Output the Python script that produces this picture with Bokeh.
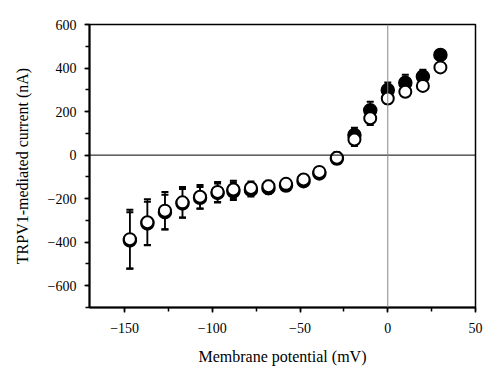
from bokeh.plotting import figure
from bokeh.models import ColumnDataSource, Whisker, TeeHead, Span, SingleIntervalTicker, Range1d
from bokeh.embed import file_html
from bokeh.resources import INLINE

voltage = [-147, -137, -127, -117, -107, -97, -88, -78, -68, -58, -48, -39, -29, -19, -10, 0, 10, 20, 30]
open_current = [-386, -308, -255, -217, -191, -169, -158, -151, -143, -132, -112, -77, -12, 72, 169, 260, 291, 318, 403]
open_err = [135, 105, 85, 70, 54, 46, 40, 30, 25, 22, 20, 20, 25, 30, 31, 23, 19, 20, 15]
filled_current = [-392, -314, -262, -222, -196, -174, -166, -160, -152, -140, -120, -84, -16, 92, 206, 299, 332, 361, 460]
filled_err = [130, 100, 80, 66, 50, 44, 40, 30, 25, 22, 20, 20, 25, 34, 39, 35, 37, 31, 22]

x_ticks = [-150, -100, -50, 0, 50]
y_ticks = [-600, -400, -200, 0, 200, 400, 600]

FONT = "Liberation Serif"

p = figure(width=492, height=372, output_backend="svg", toolbar_location=None,
           x_range=Range1d(-170, 50), y_range=Range1d(-700, 600),
           min_border_left=89, min_border_right=17, min_border_top=24, min_border_bottom=65,
           background_fill_color="white", border_fill_color="white")
p.grid.visible = False
p.outline_line_color = "black"
p.outline_line_width = 1.5

p.xaxis.ticker = SingleIntervalTicker(interval=50, num_minor_ticks=2)
p.yaxis.ticker = SingleIntervalTicker(interval=200, num_minor_ticks=2)

def fmt(v):
    return ("\u2212" + str(abs(v))) if v < 0 else str(v)

p.xaxis.major_label_overrides = {v: fmt(v) for v in x_ticks}
p.yaxis.major_label_overrides = {v: fmt(v) for v in y_ticks}

for ax in (p.xaxis[0], p.yaxis[0]):
    ax.axis_line_width = 2
    ax.axis_line_color = "black"
    ax.major_tick_in = 0
    ax.major_tick_out = 5
    ax.minor_tick_in = 0
    ax.minor_tick_out = 4
    ax.major_tick_line_width = 1.5
    ax.minor_tick_line_width = 1.5
    ax.major_label_text_font = FONT
    ax.major_label_text_font_size = "14px"
    ax.major_label_text_color = "black"
    ax.axis_label_text_font = FONT
    ax.axis_label_text_font_size = "16px"
    ax.axis_label_text_font_style = "normal"
    ax.axis_label_text_color = "black"

p.xaxis.axis_label = "Membrane potential (mV)"
p.yaxis.axis_label = "TRPV1-mediated current (nA)"
p.xaxis.major_label_standoff = 10
p.xaxis.axis_label_standoff = 12
p.yaxis.major_label_standoff = 8
p.yaxis.axis_label_standoff = 14

p.add_layout(Span(location=0, dimension="width", line_color="black", line_width=1))
p.add_layout(Span(location=0, dimension="height", line_color="#888888", line_width=1))

fsrc = ColumnDataSource(dict(x=voltage, y=filled_current,
                             upper=[a + b for a, b in zip(filled_current, filled_err)],
                             lower=[a - b for a, b in zip(filled_current, filled_err)]))
osrc = ColumnDataSource(dict(x=voltage, y=open_current,
                             upper=[a + b for a, b in zip(open_current, open_err)],
                             lower=[a - b for a, b in zip(open_current, open_err)]))

for src in (fsrc, osrc):
    w = Whisker(base="x", upper="upper", lower="lower", source=src, dimension="height",
                line_color="black", line_width=1.5,
                upper_head=TeeHead(size=7, line_width=2, line_color="black"),
                lower_head=TeeHead(size=7, line_width=2, line_color="black"))
    p.add_layout(w)

p.scatter("x", "y", source=fsrc, marker="circle", size=13, fill_color="black",
          line_color="black", line_width=1.5)
p.scatter("x", "y", source=osrc, marker="circle", size=12, fill_color="white",
          line_color="black", line_width=2)

open("out.html", "w").write(file_html(p, INLINE))
